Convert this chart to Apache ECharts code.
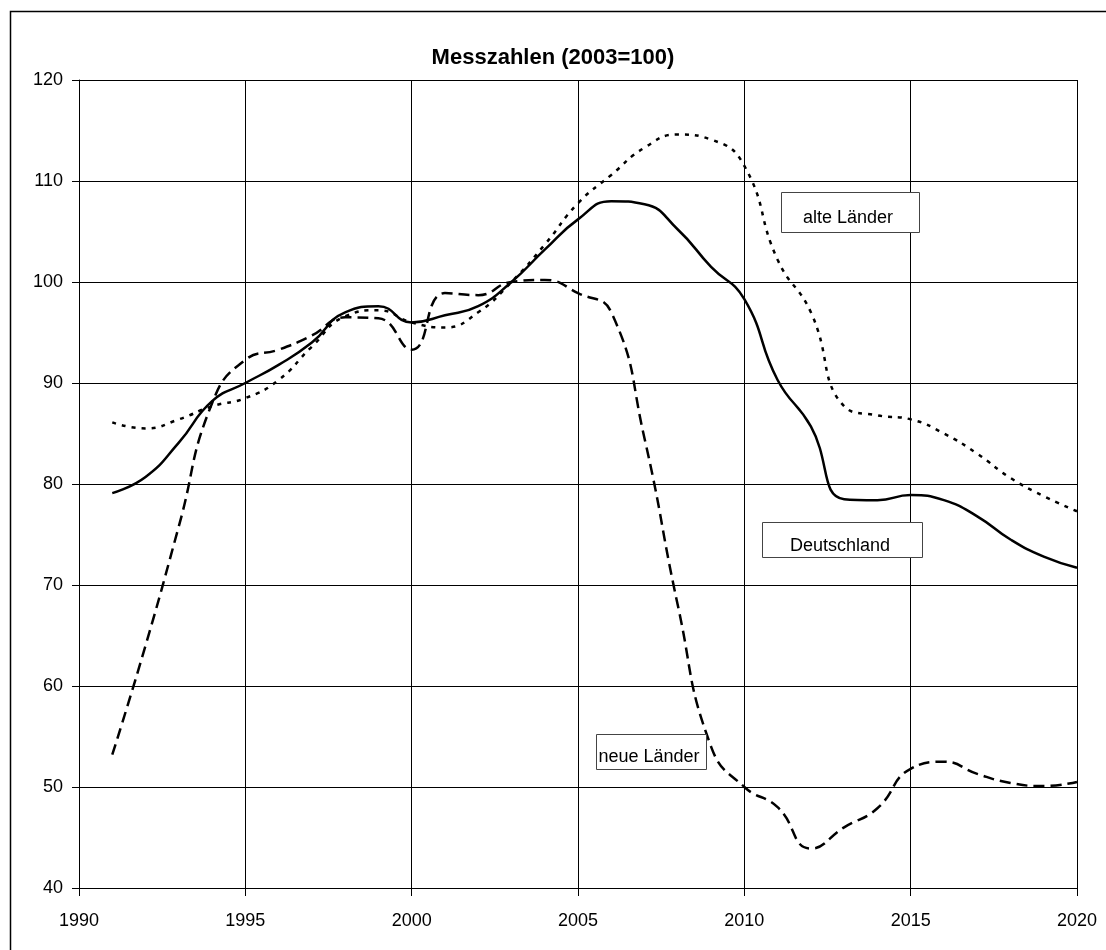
<!DOCTYPE html>
<html>
<head>
<meta charset="utf-8">
<script src="https://cdn.jsdelivr.net/npm/echarts@6/dist/echarts.min.js"></script>
<style>html,body{margin:0;padding:0;background:#fff}#c{width:1106px;height:950px}</style>
</head>
<body>
<div id="c"></div>
<script>
const years = [1991,1992,1993,1994,1995,1996,1997,1998,1999,2000,2001,2002,2003,2004,2005,2006,2007,2008,2009,2010,2011,2012,2013,2014,2015,2016,2017,2018,2019,2020];
const deutschland = [79.1,80.7,84.1,88.2,90.0,91.8,94.0,97.0,97.6,96.0,96.7,97.6,100.0,103.2,106.2,108.0,107.7,105.2,101.5,98.3,90.3,85.7,78.5,78.4,78.9,78.4,76.8,74.5,72.8,71.7];
const alteLaender = [86.1,85.5,86.4,87.7,88.5,90.3,93.6,96.6,97.2,96.0,95.5,97.0,100.0,103.7,107.8,110.6,113.3,114.6,114.1,111.5,102.2,97.0,87.7,86.8,86.4,85.0,83.0,80.6,78.8,77.3];
const neueLaender = [53.2,64.0,75.8,88.0,92.3,93.3,94.7,96.5,96.4,93.3,98.9,98.7,100.0,100.2,98.9,97.0,84.5,68.0,54.0,50.0,48.0,43.9,46.0,47.9,51.8,52.5,51.3,50.4,50.1,50.5];
const title = 'Messzahlen (2003=100)';
const seriesNames = ['Deutschland','alte Länder','neue Länder'];

const pairs = arr => years.map((y,i)=>[y,arr[i]]);
const font = 'Liberation Sans, Arial, sans-serif';

function box(x,y,w,h,text,tx,ty){
  return {type:'group', children:[
    {type:'rect', shape:{x:x+0.5,y:y+0.5,width:w,height:h}, style:{fill:'#fff',stroke:'#444',lineWidth:1}, z:10},
    {type:'text', x:tx, y:ty, style:{text:text, font:'18px '+font, fill:'#000', align:'center', verticalAlign:'middle'}, z:11}
  ]};
}

const chart = echarts.init(document.getElementById('c'));
chart.setOption({
  animation:false,
  backgroundColor:'#fff',
  title:{text:title, left:'center', top:42, textStyle:{fontFamily:font,fontSize:22,fontWeight:'bold',color:'#000'}},
  grid:{left:79, top:80, right:29, bottom:62, containLabel:false},
  xAxis:{type:'value', min:1990, max:2020, interval:5,
    axisLine:{show:true,lineStyle:{color:'#000',width:1}},
    axisTick:{show:true,inside:false,length:8,lineStyle:{color:'#000'}},
    axisLabel:{color:'#000',fontSize:18,fontFamily:font,margin:24,formatter:v=>String(v)},
    splitLine:{show:true,lineStyle:{color:'#000',width:1}}},
  yAxis:{type:'value', min:40, max:120, interval:10,
    axisLine:{show:true,lineStyle:{color:'#000',width:1}},
    axisTick:{show:true,inside:false,length:7,lineStyle:{color:'#000'}},
    axisLabel:{color:'#000',fontSize:18,fontFamily:font,margin:16},
    splitLine:{show:true,lineStyle:{color:'#000',width:1}}},
  series:[
    {name:seriesNames[0], type:'line', data:pairs(deutschland), smooth:0.5, showSymbol:false, lineStyle:{color:'#000',width:2.5,type:'solid'}},
    {name:seriesNames[1], type:'line', data:pairs(alteLaender), smooth:0.5, showSymbol:false, lineStyle:{color:'#000',width:2.5,type:[4,6]}},
    {name:seriesNames[2], type:'line', data:pairs(neueLaender), smooth:0.5, showSymbol:false, lineStyle:{color:'#000',width:2.5,type:[11,6]}}
  ],
  graphic:[
    {type:'rect', shape:{x:10.5,y:11.5,width:1110,height:960}, style:{fill:null,stroke:'#000',lineWidth:1.5}, silent:true},
    box(781,192,138,40,seriesNames[1],848,218),
    box(762,522,160,35,seriesNames[0],840,546),
    box(596,734,110,35,seriesNames[2],649,757)
  ]
});
</script>
</body>
</html>
